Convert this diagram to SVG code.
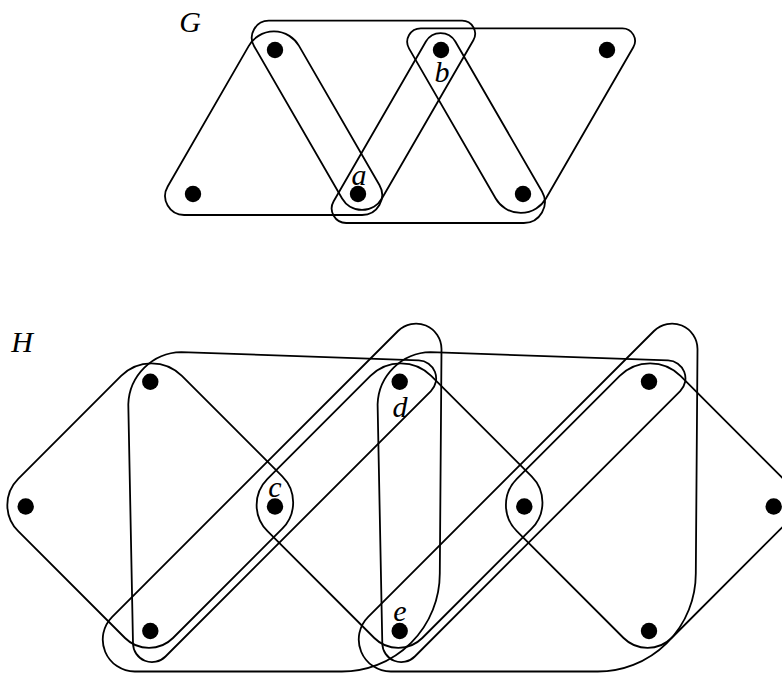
<svg xmlns="http://www.w3.org/2000/svg" xmlns:xlink="http://www.w3.org/1999/xlink" width="782" height="673" viewBox="0 0 782 673">
<style>
.e{fill:none;stroke:#000;stroke-width:1.8;stroke-linejoin:round}
.v{fill:#000}
.t{font-family:"Liberation Serif","DejaVu Serif",serif;font-style:italic;font-size:30px;fill:#000;text-anchor:middle}
</style>
<defs>
<path id="diamond" d="M18.2,478.8 L121.1,375.9 A43 43 0 0 1 181.9,375.9 L282.3,476.3 A37 37 0 0 1 282.3,528.7 L173,638 A34 34 0 0 1 125,638 L18.2,531.2 A37 37 0 0 1 18.2,478.8 Z"/>
<path id="triV" d="M181.2,352.1 L418.8,360.4 A18 18 0 0 1 430.9,391.1 L165.5,656.5 A19 19 0 0 1 133.0,643.4 L128.3,404.2 A54 54 0 0 1 181.2,352.1 Z"/>
<path id="triQ" d="M441.5,349.2 L439.8,573.5 A98 98 0 0 1 341,671.5 L134.8,671.5 A32 32 0 0 1 112.2,616.8 L398,331 A25.5 25.5 0 0 1 441.5,349.2 Z"/>
</defs>
<rect width="782" height="673" fill="#fff"/>
<g id="hyperedges" class="e">
<path id="G-e1" d="M299.0,45.9 L379.4,185 A20 20 0 0 1 362.1,215 L184.1,215 A19 19 0 0 1 167.7,186.5 L248.8,45.9 A29 29 0 0 1 299.0,45.9 Z"/>
<path id="G-e2" d="M268.8,20.7 L462.1,20.7 A13 13 0 0 1 473.35,40.2 L381.9,198.5 A23 23 0 0 1 342.1,198.5 L254.1,46.2 A17 17 0 0 1 268.8,20.7 Z"/>
<path id="G-e3" d="M455.3,41.5 L542.0,191.5 A21 21 0 0 1 523.8,223 L346.2,223 A14.5 14.5 0 0 1 333.65,201.3 L425.9,41.5 A17 17 0 0 1 455.3,41.5 Z"/>
<path id="G-e4" d="M420.8,28.3 L622.4,28.3 A12.6 12.6 0 0 1 633.3,47.2 L545.9,198.5 A29 29 0 0 1 495.7,198.5 L409.1,48.6 A13.5 13.5 0 0 1 420.8,28.3 Z"/>
<use id="H-d1" xlink:href="#diamond"/>
<use id="H-d2" xlink:href="#diamond" x="249.3"/>
<use id="H-d3" xlink:href="#diamond" x="498.6"/>
<use id="H-v1" xlink:href="#triV"/>
<use id="H-v2" xlink:href="#triV" x="249.3"/>
<use id="H-q1" xlink:href="#triQ"/>
<use id="H-q2" xlink:href="#triQ" x="256"/>
</g>
<g id="G-v1"><circle class="v" cx="275" cy="50" r="8.2"/></g>
<g id="G-b"><circle class="v" cx="441" cy="50" r="8.2"/><text class="t" x="442" y="82">b</text></g>
<g id="G-v3"><circle class="v" cx="607" cy="50" r="8.2"/></g>
<g id="G-v4"><circle class="v" cx="193" cy="194" r="8.2"/></g>
<g id="G-a"><circle class="v" cx="358" cy="194" r="8.2"/><text class="t" x="359" y="185">a</text></g>
<g id="G-v6"><circle class="v" cx="523" cy="194" r="8.2"/></g>
<g id="H-h1"><circle class="v" cx="150.3" cy="381.7" r="8.2"/></g>
<g id="H-h2"><circle class="v" cx="25.7" cy="506.5" r="8.2"/></g>
<g id="H-c"><circle class="v" cx="275" cy="506.5" r="8.2"/><text class="t" x="275" y="497">c</text></g>
<g id="H-h4"><circle class="v" cx="150.3" cy="631" r="8.2"/></g>
<g id="H-d"><circle class="v" cx="399.7" cy="381.7" r="8.2"/><text class="t" x="400" y="417">d</text></g>
<g id="H-e"><circle class="v" cx="399.7" cy="631" r="8.2"/><text class="t" x="400" y="621">e</text></g>
<g id="H-h7"><circle class="v" cx="524.3" cy="506.5" r="8.2"/></g>
<g id="H-h8"><circle class="v" cx="649" cy="381.7" r="8.2"/></g>
<g id="H-h9"><circle class="v" cx="649" cy="631" r="8.2"/></g>
<g id="H-h10"><circle class="v" cx="773.7" cy="506.5" r="8.2"/></g>
<text id="label-G" class="t" x="190" y="31.5">G</text>
<text id="label-H" class="t" x="22" y="351.7">H</text>
</svg>
